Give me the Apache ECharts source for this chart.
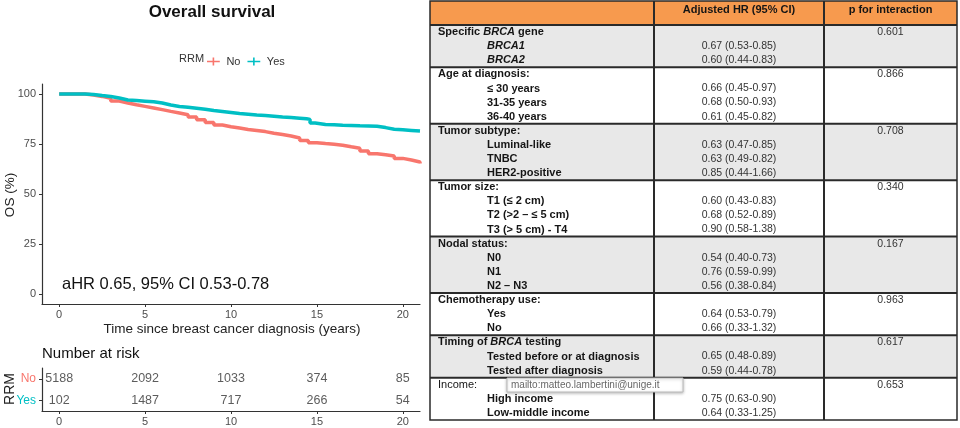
<!DOCTYPE html>
<html><head><meta charset="utf-8">
<script src="https://cdn.jsdelivr.net/npm/echarts@6/dist/echarts.min.js"></script>
<style>html,body{margin:0;padding:0;background:#fff}#c{width:960px;height:428px}</style>
</head><body><div id="c"></div>
<script>
// ---- Kaplan-Meier data ----
const timeNo  = [0,1,1.5,2,2.5,3,3.5,4,4.5,5,5.5,6,6.5,7,7.5,8,8.5,9,9.5,10,10.5,11,11.5,12,12.5,13,13.5,14,14.5,15,15.5,16,16.5,17,17.5,18,18.5,19,19.5,20,20.5,21];
const survNo  = [100,100,99.5,98.8,97.8,96.5,95.5,94.6,93.8,93.0,92.2,91.3,90.5,89.6,88.5,87.1,85.8,84.5,83.6,83.0,82.3,81.8,81.2,80.4,79.7,79.0,78.0,76.8,75.6,75.2,74.9,74.4,73.6,72.9,71.5,70.1,69.6,69.0,67.8,67.0,66.0,65.2];
const timeYes = [0,1,1.5,2,2.5,3,3.5,4,4.5,5,5.5,6,6.5,7,7.5,8,8.5,9,9.5,10,10.5,11,11.5,12,12.5,13,13.5,14,14.4,14.6,14.9,15.5,16,16.5,17,17.5,18,18.5,19,19.5,20,20.5,21];
const survYes = [100,100,99.8,99.2,98.7,98.0,97.0,96.7,96.4,96.1,95.5,94.5,93.8,93.4,92.9,92.4,91.8,91.3,90.8,90.3,89.9,89.5,89.2,88.9,88.5,88.2,87.9,87.6,87.3,85.5,84.8,84.6,84.4,84.3,84.1,84.0,83.9,83.2,82.4,82.1,81.8,81.5,81.3];
const xTicks = [0,5,10,15,20];
const yTicks = [0,25,50,75,100];
const riskGroups = ['Yes','No'];
const riskNo  = [5188,2092,1033,374,85];
const riskYes = [102,1487,717,266,54];

// ---- Table data ----
const groupLabels = ['Specific BRCA gene','Age at diagnosis:','Tumor subtype:','Tumor size:','Nodal status:','Chemotherapy use:','Timing of BRCA testing','Income:'];
const subLabels = [
  ['BRCA1','BRCA2'],
  ['≤ 30 years','31-35 years','36-40 years'],
  ['Luminal-like','TNBC','HER2-positive'],
  ['T1 (≤ 2 cm)','T2 (>2 – ≤ 5 cm)','T3 (> 5 cm) - T4'],
  ['N0','N1','N2 – N3'],
  ['Yes','No'],
  ['Tested before or at diagnosis','Tested after diagnosis'],
  ['High income','Low-middle income']
];
const hrEst  = [[0.67,0.60],[0.66,0.68,0.61],[0.63,0.63,0.85],[0.60,0.68,0.90],[0.54,0.76,0.56],[0.64,0.66],[0.65,0.59],[0.75,0.64]];
const hrLow  = [[0.53,0.44],[0.45,0.50,0.45],[0.47,0.49,0.44],[0.43,0.52,0.58],[0.40,0.59,0.38],[0.53,0.33],[0.48,0.44],[0.63,0.33]];
const hrHigh = [[0.85,0.83],[0.97,0.93,0.82],[0.85,0.82,1.66],[0.83,0.89,1.38],[0.73,0.99,0.84],[0.79,1.32],[0.89,0.78],[0.90,1.25]];
const pInteraction = ['0.601','0.866','0.708','0.340','0.167','0.963','0.617','0.653'];
const headerLabels = ['Adjusted HR (95% CI)','p for interaction'];
const tooltipText = 'mailto:matteo.lambertini@unige.it';

const RED = '#F8766D', TEAL = '#00BFC4';
const FF = "'Liberation Sans', Arial, Helvetica, sans-serif";

const chart = echarts.init(document.getElementById('c'), null, {renderer:'canvas'});

// ---- table graphics ----
const g = [];
const TL = 430, C1 = 654, C2 = 824, TR = 957, TT = 1, HB = 25, TB = 420;
const nRows = subLabels.reduce((s,a)=>s+a.length+1,0);
const rowH = (TB - HB) / nRows;
g.push({type:'rect', shape:{x:TL,y:TT,width:TR-TL,height:HB-TT}, style:{fill:'#F79A4E'}});
let r = 0;
const bounds = [];
groupLabels.forEach((lab, gi) => {
  const n = subLabels[gi].length + 1;
  const y0 = HB + r*rowH;
  if (gi % 2 === 0) g.push({type:'rect', shape:{x:TL,y:y0,width:TR-TL,height:n*rowH}, style:{fill:'#E8E8E8'}});
  bounds.push(y0);
  r += n;
});
function richLabel(s, base) {
  if (s.indexOf('BRCA') < 0) return '{' + base + '|' + s + '}';
  return s.split(/(BRCA\d?)/).filter(x=>x.length).map(p => /^BRCA/.test(p) ? '{bi|'+p+'}' : '{'+base+'|'+p+'}').join('');
}
const rich = {
  b:{fontFamily:FF,fontSize:11,fontWeight:'bold',fill:'#151515',color:'#151515'},
  n:{fontFamily:FF,fontSize:11,fontWeight:'normal',fill:'#151515',color:'#151515'},
  bi:{fontFamily:FF,fontSize:11,fontWeight:'bold',fontStyle:'italic',fill:'#151515',color:'#151515'}
};
r = 0;
groupLabels.forEach((lab, gi) => {
  const yc = HB + (r+0.5)*rowH;
  g.push({type:'text', z:10, style:{text:richLabel(lab, gi===7?'n':'b'), rich, x:TL+8, y:yc, verticalAlign:'middle', align:'left'}});
  g.push({type:'text', z:10, style:{text:pInteraction[gi], x:(C2+TR)/2, y:yc, align:'center', verticalAlign:'middle', fontFamily:FF, fontSize:10.5, fill:'#333'}});
  r++;
  subLabels[gi].forEach((s, si) => {
    const y = HB + (r+0.5)*rowH;
    g.push({type:'text', z:10, style:{text:richLabel(s,'b'), rich, x:TL+57, y, verticalAlign:'middle', align:'left'}});
    const v = hrEst[gi][si].toFixed(2)+' ('+hrLow[gi][si].toFixed(2)+'-'+hrHigh[gi][si].toFixed(2)+')';
    g.push({type:'text', z:10, style:{text:v, x:(C1+C2)/2, y, align:'center', verticalAlign:'middle', fontFamily:FF, fontSize:10.5, fill:'#333'}});
    r++;
  });
});
g.push({type:'text', z:10, style:{text:headerLabels[0], x:(C1+C2)/2, y:9.5, align:'center', verticalAlign:'middle', fontFamily:FF, fontSize:11, fontWeight:'bold', fill:'#151515'}});
g.push({type:'text', z:10, style:{text:headerLabels[1], x:(C2+TR)/2, y:9.5, align:'center', verticalAlign:'middle', fontFamily:FF, fontSize:11, fontWeight:'bold', fill:'#151515'}});
const LC = '#2a2a2a';
g.push({type:'line', z:20, shape:{x1:TL,y1:HB,x2:TR,y2:HB}, style:{stroke:LC,lineWidth:2}});
bounds.slice(1).forEach(y => g.push({type:'line', z:20, shape:{x1:TL,y1:y,x2:TR,y2:y}, style:{stroke:LC,lineWidth:2}}));
[C1,C2].forEach(x => g.push({type:'line', z:20, shape:{x1:x,y1:TT,x2:x,y2:TB}, style:{stroke:LC,lineWidth:2}}));
g.push({type:'rect', z:20, shape:{x:TL,y:TT,width:TR-TL,height:TB-TT}, style:{fill:'none',stroke:LC,lineWidth:1.5}});
g.push({type:'rect', z:30, shape:{x:507,y:378,width:176,height:14}, style:{fill:'#fff',stroke:'#bbb',lineWidth:1,shadowBlur:3,shadowColor:'rgba(0,0,0,0.25)',shadowOffsetY:1}});
g.push({type:'text', z:31, style:{text:tooltipText, x:511, y:385, verticalAlign:'middle', fontFamily:FF, fontSize:10, fill:'#666'}});

// ---- left chart texts ----
g.push({type:'text', style:{text:'Overall survival', x:212, y:12, align:'center', verticalAlign:'middle', fontFamily:FF, fontSize:17, fontWeight:'bold', fill:'#111'}});
g.push({type:'text', style:{text:'RRM', x:179, y:59, verticalAlign:'middle', fontFamily:FF, fontSize:11, fill:'#333'}});
g.push({type:'text', style:{text:'aHR 0.65, 95% CI 0.53-0.78', x:62, y:284, verticalAlign:'middle', fontFamily:FF, fontSize:16.5, fill:'#111'}});
g.push({type:'text', style:{text:'Time since breast cancer diagnosis (years)', x:232, y:329, align:'center', verticalAlign:'middle', fontFamily:FF, fontSize:13.5, fill:'#222'}});
g.push({type:'text', rotation:Math.PI/2, x:10, y:195, style:{text:'OS (%)', x:0, y:0, align:'center', verticalAlign:'middle', fontFamily:FF, fontSize:13.5, fill:'#222'}});
g.push({type:'text', style:{text:'Number at risk', x:42, y:354, verticalAlign:'middle', fontFamily:FF, fontSize:15, fill:'#111'}});
g.push({type:'text', rotation:Math.PI/2, x:10, y:389, style:{text:'RRM', x:0, y:0, align:'center', verticalAlign:'middle', fontFamily:FF, fontSize:14, fill:'#222'}});

const axisLine = {show:true, onZero:false, lineStyle:{color:'#333', width:1.2}};
const axisTickX = {show:true, length:3, lineStyle:{color:'#333'}, customValues:xTicks};
const option = {
  animation:false,
  backgroundColor:'#fff',
  legend:{data:['No','Yes'], left:202, top:51, itemWidth:16, itemHeight:8, itemGap:7,
    icon:'path://M0,4 L16,4 L16,6 L0,6 Z M7,0 L9,0 L9,10 L7,10 Z',
    textStyle:{fontFamily:FF, fontSize:11, color:'#333'}},
  grid:[
    {left:42, top:84, width:378, height:220},
    {left:42, top:368, width:378, height:43}
  ],
  xAxis:[
    {type:'value', gridIndex:0, min:-1, max:21, axisLine, axisTick:axisTickX, splitLine:{show:false},
     axisLabel:{customValues:xTicks, margin:5, fontFamily:FF, fontSize:11, color:'#4d4d4d'}},
    {type:'value', gridIndex:1, min:-1, max:21, axisLine, axisTick:axisTickX, splitLine:{show:false},
     axisLabel:{customValues:xTicks, margin:5, fontFamily:FF, fontSize:11, color:'#4d4d4d'}}
  ],
  yAxis:[
    {type:'value', gridIndex:0, min:-5, max:105, axisLine, axisTick:{show:true, length:3, customValues:yTicks, lineStyle:{color:'#333'}}, splitLine:{show:false},
     axisLabel:{customValues:yTicks, margin:6, fontFamily:FF, fontSize:11, color:'#4d4d4d'}},
    {type:'category', gridIndex:1, data:riskGroups, axisLine, axisTick:{show:true, length:3, alignWithLabel:true, lineStyle:{color:'#333'}},
     axisLabel:{margin:6, formatter:v => v==='No' ? '{no|No}' : '{yes|Yes}',
       rich:{no:{color:RED, fontFamily:FF, fontSize:12}, yes:{color:TEAL, fontFamily:FF, fontSize:12}}}}
  ],
  series:[
    {name:'No', type:'line', xAxisIndex:0, yAxisIndex:0, step:'end', showSymbol:false, color:RED,
     lineStyle:{width:3.5, color:RED}, data:timeNo.map((t,i)=>[t, survNo[i]])},
    {name:'Yes', type:'line', xAxisIndex:0, yAxisIndex:0, step:'end', showSymbol:false, color:TEAL,
     lineStyle:{width:3.5, color:TEAL}, data:timeYes.map((t,i)=>[t, survYes[i]])},
    {name:'riskNo', type:'scatter', xAxisIndex:1, yAxisIndex:1, symbolSize:1, itemStyle:{color:'rgba(0,0,0,0)'},
     label:{show:true, position:'inside', formatter:p=>String(p.value[2]), fontFamily:FF, fontSize:12.5, color:'#333'},
     data:riskNo.map((v,i)=>[xTicks[i], 'No', v])},
    {name:'riskYes', type:'scatter', xAxisIndex:1, yAxisIndex:1, symbolSize:1, itemStyle:{color:'rgba(0,0,0,0)'},
     label:{show:true, position:'inside', formatter:p=>String(p.value[2]), fontFamily:FF, fontSize:12.5, color:'#333'},
     data:riskYes.map((v,i)=>[xTicks[i], 'Yes', v])}
  ],
  graphic:g
};
chart.setOption(option);
</script></body></html>
